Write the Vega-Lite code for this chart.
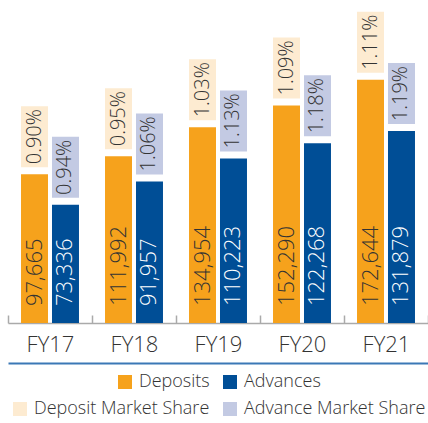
{
  "$schema": "https://vega.github.io/schema/vega-lite/v6.json",
  "width": 420,
  "height": 323,
  "autosize": {"type": "none"},
  "padding": {"left": 8, "top": 0, "right": 0, "bottom": 100},
  "data": {
    "values": [
      {"year": "FY17", "type": "Deposits", "shareName": "Deposit Market Share", "value": 97665, "share": 0.0090},
      {"year": "FY17", "type": "Advances", "shareName": "Advance Market Share", "value": 73336, "share": 0.0094},
      {"year": "FY18", "type": "Deposits", "shareName": "Deposit Market Share", "value": 111992, "share": 0.0095},
      {"year": "FY18", "type": "Advances", "shareName": "Advance Market Share", "value": 91957, "share": 0.0106},
      {"year": "FY19", "type": "Deposits", "shareName": "Deposit Market Share", "value": 134954, "share": 0.0103},
      {"year": "FY19", "type": "Advances", "shareName": "Advance Market Share", "value": 110223, "share": 0.0113},
      {"year": "FY20", "type": "Deposits", "shareName": "Deposit Market Share", "value": 152290, "share": 0.0109},
      {"year": "FY20", "type": "Advances", "shareName": "Advance Market Share", "value": 122268, "share": 0.0118},
      {"year": "FY21", "type": "Deposits", "shareName": "Deposit Market Share", "value": 172644, "share": 0.0111},
      {"year": "FY21", "type": "Advances", "shareName": "Advance Market Share", "value": 131879, "share": 0.0119}
    ]
  },
  "encoding": {
    "x": {"field": "year", "type": "nominal", "scale": {"paddingInner": 0, "paddingOuter": 0}, "axis": null},
    "xOffset": {"field": "type", "type": "nominal", "scale": {"domain": ["Deposits", "Advances"], "paddingInner": 0.129, "paddingOuter": 0.42}}
  },
  "layer": [
    {
      "mark": {"type": "bar"},
      "encoding": {
        "x": {
          "field": "year", "type": "nominal",
          "scale": {"paddingInner": 0, "paddingOuter": 0},
          "axis": {
            "title": null, "labelAngle": 0, "labelFont": "Open Sans", "labelFontWeight": 300, "labelFontSize": 22,
            "labelColor": "#333333", "labelPadding": 19, "domainColor": "#aaaaaa", "domainWidth": 1.5,
            "tickColor": "#aaaaaa", "tickWidth": 1.5, "tickSize": -8, "tickBand": "extent", "grid": false
          }
        },
        "y": {"field": "value", "type": "quantitative", "scale": {"domain": [-20500, 236000], "nice": false, "zero": false}, "axis": null},
        "y2": {"datum": -20500},
        "color": {
          "field": "type", "type": "nominal",
          "scale": {"domain": ["Deposits", "Advances"], "range": ["#F6A21C", "#004E96"]},
          "legend": {"title": null}
        }
      }
    },
    {
      "mark": {"type": "bar", "yOffset": -68, "y2Offset": -7},
      "encoding": {
        "x": {
          "field": "year", "type": "nominal",
          "scale": {"paddingInner": 0, "paddingOuter": 0},
          "axis": {"orient": "bottom", "offset": 40, "labels": false, "ticks": false, "title": null, "grid": false, "domainColor": "#3b78b6", "domainWidth": 2}
        },
        "y": {"field": "value", "type": "quantitative", "axis": null},
        "y2": {"field": "value"},
        "fill": {
          "field": "shareName", "type": "nominal",
          "scale": {"domain": ["Deposit Market Share", "Advance Market Share"], "range": ["#FDEBD1", "#C3CAE3"]},
          "legend": {"title": null}
        }
      }
    },
    {
      "mark": {"type": "text", "angle": 270, "align": "center", "baseline": "middle", "yOffset": -37.5, "font": "Open Sans", "fontWeight": 300, "fontSize": 20, "color": "#333333"},
      "encoding": {
        "y": {"field": "value", "type": "quantitative", "axis": null},
        "text": {"field": "share", "type": "quantitative", "format": ".2%"}
      }
    },
    {
      "mark": {"type": "text", "angle": 270, "align": "left", "baseline": "middle", "yOffset": -17, "font": "Open Sans", "fontWeight": 300, "fontSize": 22},
      "encoding": {
        "y": {"datum": -20500, "type": "quantitative", "axis": null},
        "text": {"field": "value", "type": "quantitative", "format": ","},
        "color": {"condition": {"test": "datum.type == 'Deposits'", "value": "#333333"}, "value": "#ffffff"}
      }
    }
  ],
  "resolve": {"axis": {"x": "independent"}},
  "config": {
    "view": {"stroke": null},
    "legend": {
      "orient": "bottom",
      "direction": "horizontal",
      "offset": 10,
      "symbolType": "square",
      "symbolSize": 196,
      "symbolStrokeWidth": 0,
      "labelFont": "Open Sans",
      "labelFontWeight": 300,
      "labelFontSize": 18,
      "labelColor": "#333333",
      "labelOffset": 5,
      "columnPadding": 11,
      "labelLimit": 300,
      "layout": {"bottom": {"anchor": "middle", "direction": "vertical", "center": true, "margin": 9}}
    }
  }
}
